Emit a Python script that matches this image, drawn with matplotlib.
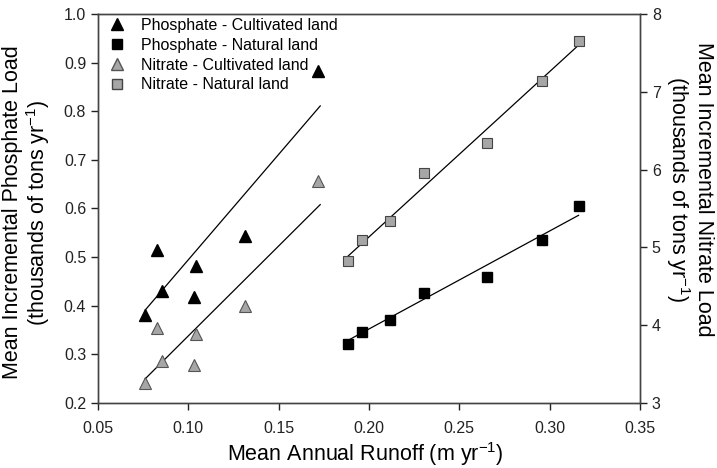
import matplotlib.pyplot as plt
from matplotlib.lines import Line2D

plt.rcParams['font.family'] = ['Liberation Sans', 'DejaVu Sans']
plt.rcParams['mathtext.default'] = 'regular'

# runoff (m/yr) for cultivated and natural basins
runoff_cult = [0.0761, 0.0826, 0.0854, 0.1030, 0.1044, 0.1313, 0.1720]
runoff_nat = [0.1885, 0.1961, 0.2118, 0.2302, 0.2652, 0.2957, 0.3160]

# phosphate load (left axis)
phos_cult = [0.381, 0.514, 0.430, 0.418, 0.482, 0.543, 0.883]
phos_nat = [0.322, 0.346, 0.370, 0.427, 0.459, 0.536, 0.605]

# nitrate load (right axis)
nitr_cult = [3.26, 3.96, 3.54, 3.49, 3.89, 4.24, 5.85]
nitr_nat = [4.83, 5.10, 5.34, 5.95, 6.34, 7.14, 7.65]

# regression lines (endpoints)
fit_cult_x = [0.0761, 0.1730]
fit_phos_cult = [0.391, 0.811]
fit_nitr_cult = [3.31, 5.55]
fit_nat_x = [0.1885, 0.3160]
fit_phos_nat = [0.329, 0.586]
fit_nitr_nat = [4.89, 7.60]

gray = '#a6a6a6'

fig = plt.figure(figsize=(7.17, 4.68), dpi=100)
ax = fig.add_axes([0.1367, 0.139, 0.7559, 0.831])
ax2 = ax.twinx()

ax.plot(fit_cult_x, fit_phos_cult, color='black', lw=0.9)
ax.plot(fit_nat_x, fit_phos_nat, color='black', lw=0.9)
ax2.plot(fit_cult_x, fit_nitr_cult, color='black', lw=0.9)
ax2.plot(fit_nat_x, fit_nitr_nat, color='black', lw=0.9)

ax.plot(runoff_cult, phos_cult, '^', color='black', ms=8.5, mec='black', zorder=5)
ax.plot(runoff_nat, phos_nat, 's', color='black', ms=7.5, mec='black', zorder=5)
ax2.plot(runoff_cult, nitr_cult, '^', color=gray, ms=8.5, mec='#555555', mew=0.8, zorder=5)
ax2.plot(runoff_nat, nitr_nat, 's', color=gray, ms=7.5, mec='#444444', mew=0.8, zorder=5)

ax.set_xlim(0.05, 0.35)
ax.set_ylim(0.2, 1.0)
ax2.set_ylim(3, 8)
ax.set_xticks([0.05, 0.10, 0.15, 0.20, 0.25, 0.30, 0.35])
ax.set_xticklabels(['0.05', '0.10', '0.15', '0.20', '0.25', '0.30', '0.35'])
ax.set_yticks([0.2, 0.3, 0.4, 0.5, 0.6, 0.7, 0.8, 0.9, 1.0])
ax.set_yticklabels(['0.2', '0.3', '0.4', '0.5', '0.6', '0.7', '0.8', '0.9', '1.0'])
ax2.set_yticks([3, 4, 5, 6, 7, 8])

for a in (ax, ax2):
    a.tick_params(direction='out', length=5, width=1, labelsize=11.5, colors='#222222')
    for s in a.spines.values():
        s.set_color('#444444')
        s.set_linewidth(1.0)
ax.tick_params(axis='x', pad=8)

ax.set_xlabel('Mean Annual Runoff (m yr$^{-1}$)', fontsize=15.5, va='center')
ax.xaxis.set_label_coords(0.494, -0.132)
ax.set_ylabel('Mean Incremental Phosphate Load\n(thousands of tons yr$^{-1}$)', fontsize=15.5,
              linespacing=1.05, va='center', ha='center')
ax.yaxis.set_label_coords(-0.131, 0.49)
ax2.set_ylabel('Mean Incremental Nitrate Load\n(thousands of tons yr$^{-1}$)', fontsize=15.5,
               rotation=270, linespacing=1.05, va='center', ha='center')
ax2.yaxis.set_label_coords(1.091, 0.55)

handles = [
    Line2D([], [], marker='^', ls='none', color='black', ms=8),
    Line2D([], [], marker='s', ls='none', color='black', ms=7),
    Line2D([], [], marker='^', ls='none', color=gray, mec='#555555', ms=8),
    Line2D([], [], marker='s', ls='none', color=gray, mec='#444444', ms=7),
]
labels = ['Phosphate - Cultivated land', 'Phosphate - Natural land',
          'Nitrate - Cultivated land', 'Nitrate - Natural land']
ax.legend(handles, labels, loc='upper left', frameon=False, fontsize=11.5,
          handlelength=2.2, handletextpad=0.4, labelspacing=0.3, borderpad=0.2,
          borderaxespad=0.0, bbox_to_anchor=(-0.004, 0.998))

fig.savefig('out.png', dpi=100)
